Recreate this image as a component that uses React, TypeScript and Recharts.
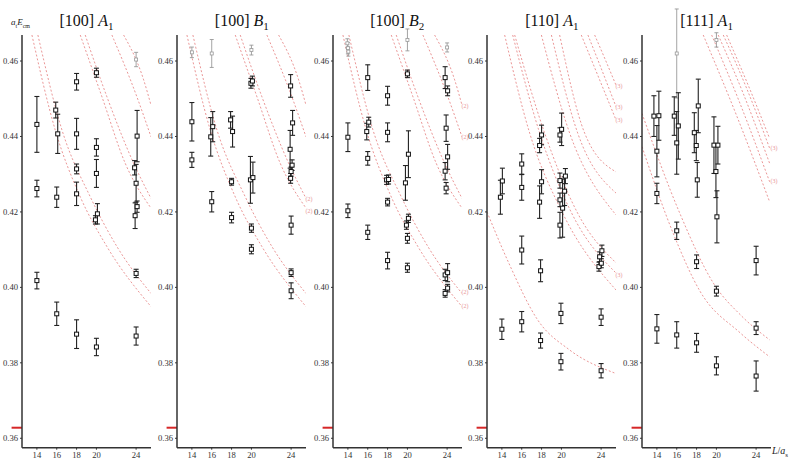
import React from "react";
import {
  ComposedChart,
  Scatter,
  Line,
  XAxis,
  YAxis,
  ErrorBar,
  ReferenceLine,
  ReferenceDot,
} from "recharts";

// [L, aE, err]
type P = [number, number, number];
type C = [number, number][];

const xTicks = [14, 16, 18, 20, 24];
const yTicks = [0.36, 0.38, 0.4, 0.42, 0.44, 0.46];
const threshold = 0.3628;

const titles = [
  ["[100]", "A", "1"],
  ["[100]", "B", "1"],
  ["[100]", "B", "2"],
  ["[110]", "A", "1"],
  ["[111]", "A", "1"],
];

const p1Black: P[] = [
  [14, 0.4432, 0.0074], [14, 0.4262, 0.0022], [14, 0.4018, 0.0022],
  [15.9, 0.447, 0.0021], [16.1, 0.4407, 0.0052], [16, 0.4239, 0.0027], [16, 0.393, 0.0031],
  [18, 0.4545, 0.0022], [18, 0.4407, 0.0041], [18, 0.4314, 0.0013], [18, 0.4248, 0.0031], [18, 0.3876, 0.0038],
  [20, 0.4569, 0.0012], [20, 0.4371, 0.0023], [20, 0.4302, 0.0037], [19.9, 0.4179, 0.0011], [20.1, 0.4195, 0.0027], [20, 0.3842, 0.0023],
  [24.1, 0.4401, 0.0068], [23.85, 0.4317, 0.0019], [24, 0.4276, 0.005], [23.9, 0.419, 0.0034], [24.1, 0.4214, 0.0015], [24, 0.4037, 0.0011], [24, 0.3871, 0.0024],
];
const p1Gray: P[] = [[24, 0.4604, 0.0019]];

const p2Black: P[] = [
  [14, 0.4439, 0.0051], [14, 0.4338, 0.002],
  [15.9, 0.4399, 0.0051], [16.1, 0.4426, 0.004], [16, 0.4227, 0.0027],
  [17.9, 0.4444, 0.0022], [18.1, 0.4413, 0.0041], [18, 0.428, 0.0009], [18, 0.4185, 0.0014],
  [19.95, 0.4541, 0.0013], [20.1, 0.4547, 0.0013], [19.9, 0.4285, 0.0062], [20.15, 0.4291, 0.0041], [20, 0.4157, 0.0011], [20, 0.4101, 0.0012],
  [23.95, 0.4534, 0.003], [24.15, 0.4436, 0.0033], [23.9, 0.4366, 0.005], [24.1, 0.4324, 0.0014], [24, 0.4307, 0.0012], [23.95, 0.4289, 0.0013],
  [24, 0.4165, 0.0024], [24, 0.4039, 0.001], [24, 0.3991, 0.0021],
];
const p2Gray: P[] = [[14, 0.4623, 0.0014], [16, 0.462, 0.0037], [20, 0.4629, 0.0013]];

const p3Black: P[] = [
  [14, 0.4398, 0.0038], [14, 0.4203, 0.0018],
  [16, 0.4556, 0.0034], [15.9, 0.4413, 0.0022], [16.1, 0.4438, 0.0013], [16, 0.4342, 0.0018], [16, 0.4146, 0.0019],
  [18, 0.4508, 0.0025], [18, 0.4411, 0.0025], [17.9, 0.4285, 0.0012], [18.1, 0.4286, 0.0012], [18, 0.4226, 0.001], [18, 0.4071, 0.0022],
  [20, 0.4566, 0.001], [19.8, 0.4277, 0.0046], [20.1, 0.4353, 0.0062], [19.9, 0.4165, 0.0011], [20.1, 0.4183, 0.0011], [20, 0.413, 0.0013], [20, 0.4052, 0.0012],
  [23.8, 0.4556, 0.0029], [24.05, 0.4521, 0.0013], [23.9, 0.4422, 0.0035], [24.05, 0.4346, 0.0033], [23.8, 0.4308, 0.0023], [23.9, 0.4263, 0.0015],
  [23.8, 0.4033, 0.0015], [24.05, 0.4039, 0.0024], [24.05, 0.3998, 0.001], [23.8, 0.3984, 0.001],
];
const p3Gray: P[] = [[13.95, 0.4647, 0.0012], [14, 0.4634, 0.0015], [14.05, 0.4625, 0.0012], [20, 0.4656, 0.0029], [24, 0.4636, 0.0012]];

const p4Black: P[] = [
  [13.85, 0.4239, 0.0045], [14.05, 0.4282, 0.0034], [14, 0.3889, 0.0027],
  [16, 0.4327, 0.0027], [16, 0.4265, 0.0034], [16, 0.4099, 0.0037], [16, 0.3909, 0.0027],
  [17.8, 0.4376, 0.0019], [18, 0.4404, 0.0026], [17.8, 0.4226, 0.0043], [18, 0.428, 0.0032], [17.9, 0.4044, 0.0029], [17.9, 0.3859, 0.002],
  [19.85, 0.4404, 0.0019], [20.02, 0.4419, 0.0043], [19.85, 0.4283, 0.002], [19.85, 0.4232, 0.0018], [19.85, 0.4165, 0.0034],
  [20.12, 0.421, 0.0077], [20.4, 0.4295, 0.002], [20.32, 0.4255, 0.0038], [19.95, 0.3931, 0.0027], [19.95, 0.3803, 0.0022],
  [23.78, 0.4055, 0.0012], [24.02, 0.4064, 0.0012], [23.85, 0.4081, 0.0013], [24.08, 0.4097, 0.0015], [24, 0.3921, 0.0022], [24, 0.3779, 0.0019],
];
const p4Gray: P[] = [];

const p5Black: P[] = [
  [13.7, 0.4454, 0.0054], [14.2, 0.4455, 0.0065], [14, 0.4361, 0.0068], [14, 0.4249, 0.0027], [14, 0.389, 0.0038],
  [15.75, 0.4454, 0.0051], [16.16, 0.4428, 0.0088], [16, 0.4383, 0.0083], [16, 0.415, 0.0023], [16, 0.3874, 0.0035],
  [17.77, 0.441, 0.0053], [17.97, 0.4376, 0.004], [18.17, 0.4481, 0.0071], [18.07, 0.4285, 0.0046], [18, 0.4068, 0.0018], [18, 0.3853, 0.0025],
  [19.75, 0.4377, 0.0075], [19.95, 0.4307, 0.0069], [20.15, 0.4377, 0.005], [20.05, 0.4187, 0.0069], [20, 0.399, 0.0013], [20, 0.3792, 0.0024],
  [24, 0.4071, 0.0038], [24, 0.3892, 0.0017], [24, 0.3765, 0.004],
];
const p5Gray: P[] = [[16, 0.462, 0.0118], [20, 0.4656, 0.0019]];

// non-interacting levels
const lv100: C[] = [
  [[13.5, 0.4669], [15.85, 0.4417], [18.37, 0.424], [21.06, 0.4108], [25.5, 0.3949]],
  [[14.1, 0.4669], [16.53, 0.4417], [19.38, 0.424], [22.07, 0.4108], [25.5, 0.3984]],
  [[18.37, 0.4669], [20.56, 0.4505], [22.9, 0.4329], [25.5, 0.421]],
  [[18.87, 0.4669], [21.06, 0.4505], [23.75, 0.4329], [25.5, 0.4236]],
  [[21.56, 0.4669], [24.08, 0.4505], [25.5, 0.4399]],
  [[22.74, 0.4669], [24.76, 0.455], [25.5, 0.4483]],
];
const lv110: C[] = [
  [[14.28, 0.4669], [16.8, 0.4409], [20.12, 0.4197], [25.5, 0.3993]],
  [[15.09, 0.4669], [17.81, 0.4409], [21.03, 0.4197], [25.5, 0.4038]],
  [[15.29, 0.4669], [18.31, 0.4409], [21.63, 0.4197], [25.5, 0.4065]],
  [[17.98, 0.4669], [20.83, 0.4409], [25.5, 0.4192]],
  [[18.99, 0.4669], [21.64, 0.4409], [25.5, 0.425]],
  [[19.82, 0.4669], [22.34, 0.4409], [25.5, 0.4306]],
  [[22.0, 0.4669], [23.65, 0.4563], [25.5, 0.4444]],
  [[22.67, 0.4669], [24.0, 0.4581], [25.5, 0.4479]],
  [[23.35, 0.4669], [24.35, 0.4608], [25.5, 0.4536]],
  [[12.5, 0.42], [14.79, 0.4059], [17.6, 0.3914], [20.83, 0.3834], [25.36, 0.3773]],
];
const lv111: C[] = [
  [[18.67, 0.4669], [22.04, 0.4455], [25.36, 0.4227]],
  [[19.52, 0.4669], [22.37, 0.4488], [25.36, 0.428]],
  [[20.18, 0.4669], [22.7, 0.4514], [25.36, 0.4329]],
  [[20.69, 0.4669], [23.04, 0.4528], [25.36, 0.4369]],
  [[21.03, 0.4669], [23.2, 0.4536], [25.36, 0.4395]],
  [[12.5, 0.4461], [16.3, 0.4197], [19.7, 0.4011], [22.5, 0.3925], [25.36, 0.3861]],
  [[12.5, 0.4373], [15.65, 0.4143], [18.34, 0.399], [22.37, 0.388], [25.36, 0.3816]],
];

// multiplicity tags [L, aE, text]
const tags2: [number, number, string][] = [[25.5, 0.4236, "(2)"], [25.5, 0.4205, "(2)"]];
const tags3: [number, number, string][] = [
  [25.5, 0.4483, "(2)"], [25.5, 0.4399, "(2)"], [25.5, 0.3988, "(2)"], [25.5, 0.3953, "(2)"],
];
const tags4: [number, number, string][] = [
  [25.5, 0.4536, "(3)"], [25.5, 0.4479, "(3)"], [25.5, 0.4444, "(3)"], [25.5, 0.4035, "(3)"],
];
const tags5: [number, number, string][] = [[25.5, 0.4372, "(3)"], [25.5, 0.4284, "(3)"]];

const panels = [
  { black: p1Black, gray: p1Gray, curves: lv100, tags: [] as [number, number, string][] },
  { black: p2Black, gray: p2Gray, curves: lv100, tags: tags2 },
  { black: p3Black, gray: p3Gray, curves: lv100, tags: tags3 },
  { black: p4Black, gray: p4Gray, curves: lv110, tags: tags4 },
  { black: p5Black, gray: p5Gray, curves: lv111, tags: tags5 },
];

const axisX = [22, 177.3, 332.7, 487.3, 642];
const serif = "Liberation Serif, DejaVu Serif, serif";
const axisStyle = { stroke: "#333", strokeWidth: 1.5 };

const toPts = (rows: P[]) => rows.map(([L, v, e]) => ({ L, v, e }));
const toCurve = (rows: C) => rows.map(([L, v]) => ({ L, v }));

const blackSq = (p: any) => (
  <rect x={p.cx - 2} y={p.cy - 2} width={4} height={4} fill="#fff" stroke="#111" strokeWidth={1} />
);
const graySq = (p: any) => (
  <rect x={p.cx - 1.5} y={p.cy - 1.5} width={3} height={3} fill="#fff" stroke="#999" strokeWidth={0.8} />
);

const XTick = (p: any) => (
  <text x={p.x} y={p.y} dy="0.75em" textAnchor="middle" fontSize={8.6} fontFamily={serif} fill="#333">
    {p.payload.value}
  </text>
);
const YTick = (p: any) => (
  <text x={p.x} y={p.y} dy="0.32em" textAnchor="end" fontSize={8.6} fontFamily={serif} fill="#333">
    {p.payload.value.toFixed(2)}
  </text>
);

function Panel({ idx }: { idx: number }) {
  const cfg = panels[idx];
  const t = titles[idx];
  return (
    <div style={{ position: "absolute", left: axisX[idx] - 22, top: 0, width: 170, height: 464 }}>
      <div
        style={{
          position: "absolute",
          left: 22,
          width: 129,
          top: 11,
          textAlign: "center",
          fontFamily: serif,
          fontSize: 16,
          lineHeight: "20px",
          color: "#111",
        }}
      >
        {t[0]} <i>{t[1]}</i>
        <sub style={{ fontSize: 11 }}>{t[2]}</sub>
      </div>
      <ComposedChart width={170} height={464} margin={{ top: 35, right: 19, bottom: 2.3, left: 0 }}>
        <XAxis
          type="number"
          dataKey="L"
          domain={[12.5, 25.5]}
          ticks={xTicks}
          interval={0}
          allowDataOverflow
          height={14}
          tickSize={2}
          tick={<XTick />}
          axisLine={axisStyle}
          tickLine={{ stroke: "#333" }}
        />
        <YAxis
          type="number"
          domain={[0.3575, 0.4669]}
          ticks={yTicks}
          interval={0}
          allowDataOverflow
          width={22}
          tickSize={2}
          tickMargin={2}
          tick={<YTick />}
          axisLine={axisStyle}
          tickLine={{ stroke: "#333" }}
        />
        {cfg.curves.map((c, i) => (
          <Line
            key={"c" + i}
            data={toCurve(c)}
            dataKey="v"
            type="monotone"
            stroke="#e06464"
            strokeOpacity={0.75}
            strokeWidth={0.9}
            strokeDasharray="2 2"
            dot={false}
            activeDot={false}
            isAnimationActive={false}
          />
        ))}
        <Scatter data={toPts(cfg.gray)} dataKey="v" shape={graySq} isAnimationActive={false}>
          <ErrorBar dataKey="e" direction="y" width={2} stroke="#999" strokeWidth={0.9} />
        </Scatter>
        <Scatter data={toPts(cfg.black)} dataKey="v" shape={blackSq} isAnimationActive={false}>
          <ErrorBar dataKey="e" direction="y" width={2.5} stroke="#222" strokeWidth={1.1} />
        </Scatter>
        <ReferenceLine
          segment={[
            { x: 11.45, y: threshold },
            { x: 12.5, y: threshold },
          ]}
          stroke="#d62728"
          strokeWidth={2}
          ifOverflow="visible"
        />
        {cfg.tags.map(([L, v, s], i) => (
          <ReferenceDot
            key={"t" + i}
            x={L}
            y={v}
            r={0}
            ifOverflow="visible"
            shape={(p: any) => (
              <text x={p.cx - 0.5} y={p.cy + 2.5} fontSize={6} fill="#e8959a" fontFamily={serif}>
                {s}
              </text>
            )}
          />
        ))}
      </ComposedChart>
    </div>
  );
}

export default function App() {
  return (
    <div style={{ position: "absolute", left: 0, top: 0, width: 790, height: 464, background: "#fff" }}>
      {panels.map((_, i) => (
        <Panel key={i} idx={i} />
      ))}
      <div style={{ position: "absolute", left: 11, top: 17, fontFamily: serif, fontSize: 9, color: "#222" }}>
        <i>a</i>
        <sub style={{ fontSize: 6 }}>t</sub>
        <i>E</i>
        <sub style={{ fontSize: 6 }}>cm</sub>
      </div>
      <div style={{ position: "absolute", left: 772, top: 445, fontFamily: serif, fontSize: 10, color: "#222" }}>
        <i>L</i>/<i>a</i>
        <sub style={{ fontSize: 7 }}>s</sub>
      </div>
    </div>
  );
}
